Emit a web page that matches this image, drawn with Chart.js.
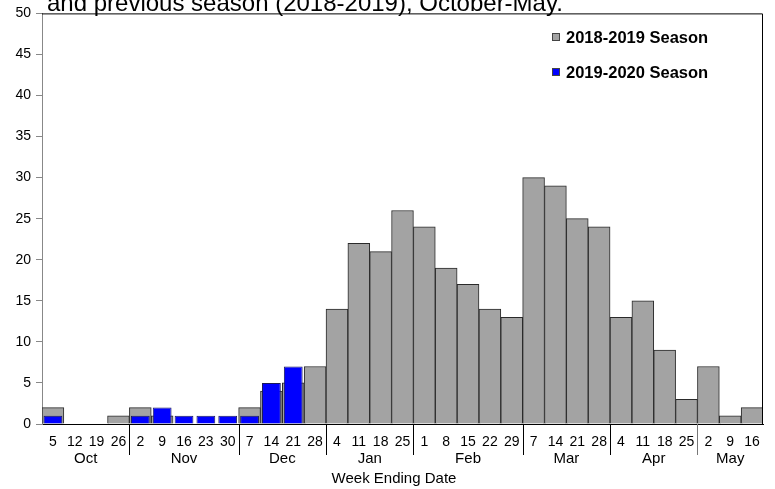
<!DOCTYPE html>
<html>
<head>
<meta charset="utf-8">
<script src="https://cdn.jsdelivr.net/npm/chart.js@4/dist/chart.umd.min.js"></script>
<style>
  html, body { margin: 0; padding: 0; background: #fff; }
  #wrap { width: 775px; height: 489px; position: relative; }
</style>
</head>
<body>
<div id="wrap"><canvas id="chart" width="775" height="489"></canvas></div>
<script>
const weekDays = ['5', '12', '19', '26', '2', '9', '16', '23', '30', '7', '14', '21', '28',
  '4', '11', '18', '25', '1', '8', '15', '22', '29', '7', '14', '21', '28',
  '4', '11', '18', '25', '2', '9', '16'];
const months = ['Oct', 'Nov', 'Dec', 'Jan', 'Feb', 'Mar', 'Apr', 'May'];
const weeksPerMonth = [4, 5, 4, 4, 5, 4, 4, 3];

const season1819 = [2, 0, 0, 1, 2, 1, 0, 0, 0, 2, 4, 5, 7,
  14, 22, 21, 26, 24, 19, 17, 14, 13, 30, 29, 25, 24,
  13, 15, 9, 3, 7, 1, 2];
const season1920 = [1, null, null, null, 1, 2, 1, 1, 1, 1, 5, 7, null,
  null, null, null, null, null, null, null, null, null, null, null, null, null,
  null, null, null, null, null, null, null];

const titleLine = 'and previous season (2018-2019), October-May.';
const xTitle = 'Week Ending Date';

const FONT = 'Arial, "Liberation Sans", sans-serif';

// draws the cut-off title, legend, month groups and axis title
const extras = {
  id: 'extras',
  afterDraw(chart) {
    const ctx = chart.ctx;
    const area = chart.chartArea;
    ctx.save();

    // title line, partly off the top
    ctx.fillStyle = '#000';
    ctx.font = '24px ' + FONT;
    ctx.textAlign = 'left';
    ctx.textBaseline = 'alphabetic';
    ctx.fillText(titleLine, 47, 11);

    // frame top + right
    ctx.strokeStyle = '#000';
    ctx.lineWidth = 1;
    ctx.beginPath();
    ctx.moveTo(area.left, area.top + 0.5);
    ctx.lineTo(area.right - 0.5, area.top + 0.5);
    ctx.lineTo(area.right - 0.5, area.bottom);
    ctx.stroke();

    // legend
    const items = chart.data.datasets;
    ctx.font = 'bold 16.5px ' + FONT;
    ctx.textBaseline = 'middle';
    items.forEach((ds, i) => {
      const y = 37 + i * 35;
      ctx.fillStyle = ds.backgroundColor;
      ctx.fillRect(552, y - 4, 8, 8);
      ctx.strokeStyle = '#444';
      ctx.strokeRect(552.5, y - 3.5, 7, 7);
      ctx.fillStyle = '#000';
      ctx.fillText(ds.label, 566, y + 1);
    });

    // month labels and separators
    const step = (area.right - area.left) / weekDays.length;
    ctx.font = '15px ' + FONT;
    ctx.textAlign = 'center';
    ctx.fillStyle = '#000';
    let start = 0;
    months.forEach((m, i) => {
      const n = weeksPerMonth[i];
      const x0 = area.left + start * step;
      const x1 = area.left + (start + n) * step;
      ctx.fillText(m, (x0 + x1) / 2, 459);
      if (i < months.length - 1) {
        const sx = Math.round(x1) + 0.5;
        ctx.strokeStyle = i === months.length - 2 ? '#777' : '#000';
        ctx.beginPath();
        ctx.moveTo(sx, area.bottom);
        ctx.lineTo(sx, 455);
        ctx.stroke();
      }
      start += n;
    });

    ctx.fillText(xTitle, 394, 479);
    ctx.restore();
  }
};

new Chart(document.getElementById('chart'), {
  type: 'bar',
  data: {
    labels: weekDays,
    datasets: [
      {
        label: '2018-2019 Season',
        data: season1819,
        backgroundColor: '#a3a3a3',
        borderColor: '#2a2a2a',
        borderWidth: 1,
        barPercentage: 1,
        categoryPercentage: 1,
        order: 2
      },
      {
        label: '2019-2020 Season',
        data: season1920,
        backgroundColor: '#0000ff',
        borderColor: '#1a1a5a',
        borderWidth: 1,
        barPercentage: 0.86,
        categoryPercentage: 1,
        order: 1
      }
    ]
  },
  options: {
    responsive: false,
    animation: false,
    grouped: false,
    layout: { padding: { top: 11, right: 12, left: 0, bottom: 0 } },
    plugins: {
      legend: { display: false },
      tooltip: { enabled: false }
    },
    scales: {
      x: {
        grid: { display: false, drawTicks: false },
        border: { color: '#000' },
        ticks: {
          color: '#000',
          font: { family: FONT, size: 14 },
          padding: 10,
          maxRotation: 0,
          autoSkip: false
        },
        afterFit(scale) { scale.height = 65; }
      },
      y: {
        min: 0,
        max: 50,
        grid: { drawOnChartArea: false, tickLength: 6, color: '#888' },
        border: { color: '#888' },
        ticks: {
          stepSize: 5,
          color: '#000',
          font: { family: FONT, size: 14 },
          padding: 5
        },
        afterFit(scale) { scale.width = 42; }
      }
    }
  },
  plugins: [extras]
});
</script>
</body>
</html>
